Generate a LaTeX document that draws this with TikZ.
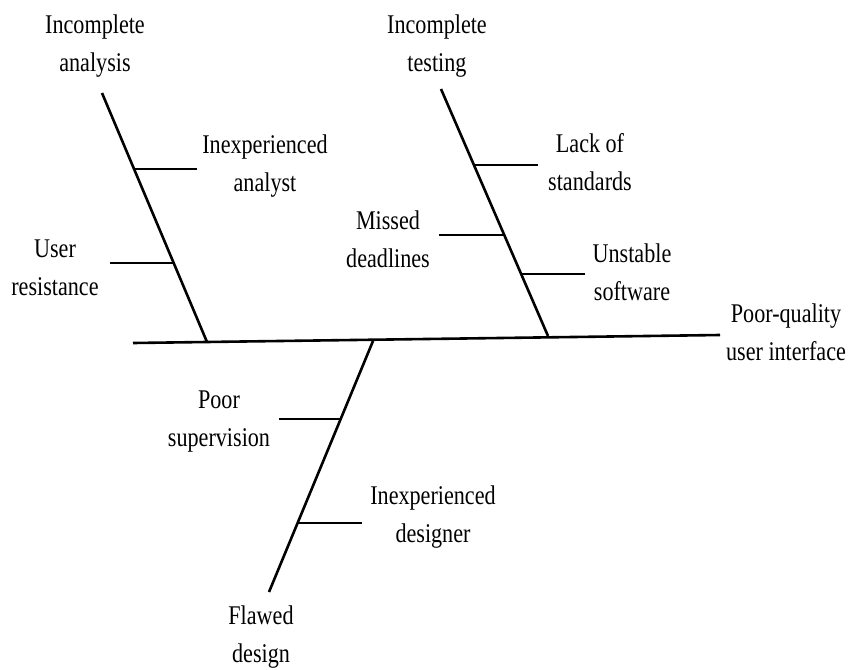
\documentclass[tikz,border=0pt]{standalone}
\usepackage{fontspec}
\setmainfont{Liberation Serif}[FakeStretch=0.82]
\begin{document}
\begin{tikzpicture}[x=1pt,y=-1pt,
  bone/.style={line width=2.6pt,line cap=butt},
  rib/.style={line width=2.6pt},
  cause/.style={font=\fontsize{27}{38}\selectfont,align=center,inner sep=0pt}]
\useasboundingbox (0,0) rectangle (853,669);

% spine
\coordinate (tail) at (133,343);
\coordinate (head) at (720,335);
\draw[bone] (tail) -- (head);

% main bones
\coordinate (b1top) at (102,93);   \coordinate (b1foot) at (207,342);
\coordinate (b2top) at (441,89);   \coordinate (b2foot) at (548,336);
\coordinate (b3top) at (373,341);  \coordinate (b3foot) at (269,592);
\draw[bone] (b1top) -- (b1foot);
\draw[bone] (b2top) -- (b2foot);
\draw[bone] (b3foot) -- (b3top);

% ribs
\coordinate (r1a) at (135,169); \coordinate (r1b) at (197,169);
\coordinate (r2a) at (110,263); \coordinate (r2b) at (173,263);
\coordinate (r3a) at (474,165); \coordinate (r3b) at (538,165);
\coordinate (r4a) at (439,235); \coordinate (r4b) at (504,235);
\coordinate (r5a) at (522,274); \coordinate (r5b) at (585,274);
\coordinate (r6a) at (279,419); \coordinate (r6b) at (341,419);
\coordinate (r7a) at (298,523); \coordinate (r7b) at (362,523);
\foreach \r in {1,...,7} \draw[rib] (r\r a) -- (r\r b);

% labels
\node[cause] (analysis)   at (95,46)   {Incomplete\\analysis};
\node[cause] (analyst)    at (265,166) {Inexperienced\\analyst};
\node[cause] (resistance) at (55,268)  {User\\resistance};
\node[cause] (testing)    at (437,46)  {Incomplete\\testing};
\node[cause] (standards)  at (590,162) {Lack of\\standards};
\node[cause] (deadlines)  at (388,239) {Missed\\deadlines};
\node[cause] (software)   at (632,272) {Unstable\\software};
\node[cause] (effect)     at (786,332) {Poor-quality\\user interface};
\node[cause] (supervision) at (219,422) {Poor\\supervision};
\node[cause] (designer)   at (433,517) {Inexperienced\\designer};
\node[cause] (design)     at (261,637) {Flawed\\design};
\end{tikzpicture}
\end{document}
